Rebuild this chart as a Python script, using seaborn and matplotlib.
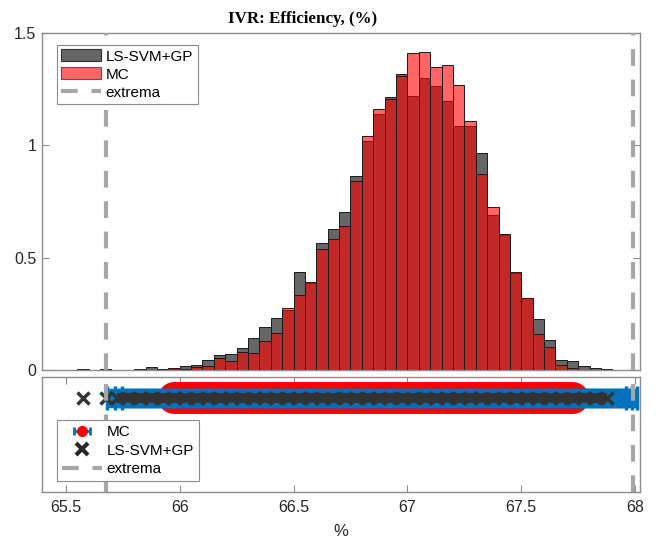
import numpy as np
import pandas as pd
import matplotlib
matplotlib.use("Agg")
import matplotlib.pyplot as plt
from matplotlib.lines import Line2D
from matplotlib.patches import Patch
import seaborn as sns

# ---- data ----
# histogram (pdf), bins of width 0.05 starting at 65.55
bin_start = 65.55
bin_width = 0.05
gp_pdf = [0.004, 0.0, 0.004, 0.002, 0.002, 0.004, 0.015, 0.006, 0.005, 0.019,
          0.024, 0.045, 0.067, 0.073, 0.097, 0.142, 0.194, 0.234, 0.270, 0.435,
          0.388, 0.565, 0.627, 0.706, 0.863, 1.021, 1.139, 1.214, 1.316, 1.222,
          1.302, 1.265, 1.197, 1.087, 1.087, 0.967, 0.690, 0.600, 0.432, 0.320,
          0.228, 0.134, 0.045, 0.040, 0.019, 0.009, 0.005]
mc_pdf = [0.0, 0.0, 0.0, 0.0, 0.0, 0.0, 0.003, 0.004, 0.010, 0.007,
          0.013, 0.019, 0.056, 0.043, 0.081, 0.077, 0.129, 0.164, 0.275, 0.333,
          0.392, 0.541, 0.583, 0.642, 0.843, 1.040, 1.160, 1.205, 1.307, 1.411,
          1.415, 1.348, 1.359, 1.271, 1.107, 0.875, 0.724, 0.605, 0.435, 0.322,
          0.159, 0.104, 0.022, 0.009, 0.0, 0.0, 0.0]
extrema = [65.675, 67.99]
# MC error bars (low / high ends)
mc_err_lo = [65.68, 65.715, 65.745]
mc_err_hi = [68.01, 67.985, 67.96]
mc_center = 66.85

n = len(gp_pdf)
centers = bin_start + bin_width * (np.arange(n) + 0.5)
hist = pd.DataFrame({"x": centers, "gp": gp_pdf, "mc": mc_pdf})
bin_range = (bin_start, bin_start + n * bin_width)

plt.rcParams["font.family"] = ["Liberation Sans", "DejaVu Sans"]
spine_c = "#8c8c8c"
text_c = "#262626"
dash_c = "#a6a6a6"
blue = "#0072BD"

fig = plt.figure(figsize=(6.65, 5.42), dpi=100)
ax1 = fig.add_axes([0.063, 0.317, 0.899, 0.622])
ax2 = fig.add_axes([0.063, 0.0923, 0.899, 0.212])

# ---- top: histograms ----
sns.histplot(data=hist, x="x", weights="gp", binwidth=bin_width,
             binrange=bin_range, ax=ax1, color="black", alpha=0.6,
             edgecolor="#1a1a1a", linewidth=0.7)
sns.histplot(data=hist, x="x", weights="mc", binwidth=bin_width,
             binrange=bin_range, ax=ax1, color="red", alpha=0.6,
             edgecolor="#1a1a1a", linewidth=0.7)
for xv in extrema:
    ax1.axvline(xv, color=dash_c, lw=3, ls=(0, (4, 3.3)), zorder=5)

ax1.set_xlim(65.395, 68.02)
ax1.set_ylim(0, 1.5)
ax1.set_yticks([0, 0.5, 1, 1.5])
ax1.set_yticklabels(["0", "0.5", "1", "1.5"])
ax1.set_xticks([])
ax1.set_xlabel("")
ax1.set_ylabel("")
ax1.set_title("IVR: Efficiency, (%)", family=["Liberation Serif"],
              fontweight="bold", fontsize=12.2, pad=7, color="black", x=0.436)

h1 = [Patch(facecolor="#666666", edgecolor="#333333", lw=0.8),
      Patch(facecolor="#ff6666", edgecolor="#555555", lw=0.8),
      Line2D([], [], color=dash_c, lw=3, ls=(0, (4, 3.3)))]
leg1 = ax1.legend(h1, ["LS-SVM+GP", "MC", "extrema"], loc="upper left",
                  bbox_to_anchor=(0.025, 0.965), fontsize=11, frameon=True,
                  fancybox=False, framealpha=1, edgecolor=spine_c,
                  handlelength=2.6, handleheight=0.8, borderpad=0.3,
                  labelspacing=0.25, handletextpad=0.3, borderaxespad=0)
leg1.get_frame().set_linewidth(0.8)

# ---- bottom: samples ----
row = 0.815
mc_pts = hist.loc[hist["mc"] > 0.005, "x"].to_numpy()
gp_pts = hist.loc[hist["gp"] > 0, "x"].to_numpy()
# MC samples: big red dots merging into one rounded band
ax2.plot(mc_pts, np.full(len(mc_pts), row), "-", color="red",
         lw=23, solid_capstyle="round", zorder=2)
for lo, hi in zip(mc_err_lo, mc_err_hi):
    ax2.errorbar([mc_center], [row], xerr=[[mc_center - lo], [hi - mc_center]],
                 fmt="none", ecolor=blue, elinewidth=14, capsize=8.5,
                 capthick=2.5, zorder=3)
dense = gp_pts[gp_pts > 65.7]
ax2.plot([dense.min(), dense.max()], [row, row], color="#333333", lw=7,
         solid_capstyle="butt", zorder=4)
ax2.plot(gp_pts, np.full(len(gp_pts), row), "x", color="#333333", ms=8,
         mew=2.5, zorder=4)
for xv in extrema:
    ax2.axvline(xv, color=dash_c, lw=3, ls=(0, (4, 3.3)), zorder=5)

ax2.set_xlim(65.395, 68.02)
ax2.set_ylim(0, 1)
ax2.set_yticks([])
ax2.set_xticks([65.5, 66, 66.5, 67, 67.5, 68])
ax2.set_xticklabels(["65.5", "66", "66.5", "67", "67.5", "68"])
ax2.set_xlabel("%", fontsize=12, color=text_c, labelpad=6)

mc_h = ax2.errorbar([np.nan], [np.nan], xerr=[[0.1]], fmt="o", color="red",
                    mec="red", ms=7, ecolor=blue, elinewidth=2, capsize=3,
                    capthick=2)
h2 = [mc_h,
      Line2D([], [], ls="none", marker="x", color="#262626", ms=9, mew=3),
      Line2D([], [], color=dash_c, lw=3, ls=(0, (4, 3.3)))]
leg2 = ax2.legend(h2, ["MC", "LS-SVM+GP", "extrema"], loc="upper left",
                  bbox_to_anchor=(0.025, 0.63), fontsize=11, frameon=True,
                  fancybox=False, framealpha=1, edgecolor=spine_c,
                  handlelength=2.6, borderpad=0.35, labelspacing=0.3,
                  handletextpad=0.3, borderaxespad=0)
leg2.get_frame().set_linewidth(0.8)

for ax in (ax1, ax2):
    for s in ax.spines.values():
        s.set_color(spine_c)
        s.set_linewidth(1)
    ax.tick_params(direction="in", length=5, color=spine_c, labelcolor=text_c,
                   labelsize=11.5, width=0.8, pad=6)
ax1.tick_params(axis="y", right=True, pad=4)
ax2.tick_params(axis="x", top=True)

fig.savefig("out.png", dpi=100)
